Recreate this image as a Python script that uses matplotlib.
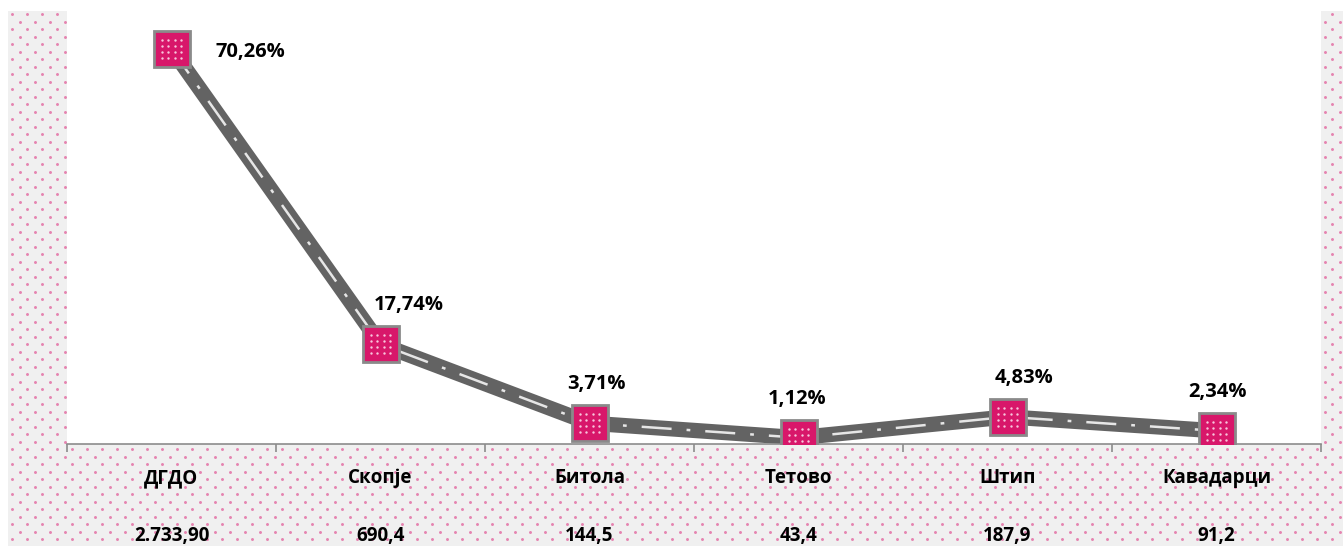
import numpy as np
import matplotlib
matplotlib.use("Agg")
import matplotlib.pyplot as plt
from matplotlib.transforms import ScaledTranslation, blended_transform_factory

# data
cities = ["ДГДО", "Скопје", "Битола", "Тетово", "Штип", "Кавадарци"]
amounts = ["2.733,90", "690,4", "144,5", "43,4", "187,9", "91,2"]
shares = [70.26, 17.74, 3.71, 1.12, 4.83, 2.34]

plt.rcParams['font.family'] = ['Open Sans', 'DejaVu Sans']

W, H = 1343, 546
fig = plt.figure(figsize=(W / 100, H / 100), dpi=100)
fig.patch.set_facecolor("white")

# dotted background
bg = fig.add_axes([0, 0, 1, 1])
bg.set_xlim(0, W)
bg.set_ylim(H, 0)
bg.axis("off")
bg.add_patch(plt.Rectangle((8, 11), W - 8, H - 11, color="#f0f0f0", lw=0))
gx, gy = np.meshgrid(np.arange(12, W, 15), np.arange(14, H, 15))
bg.scatter(gx.ravel(), gy.ravel(), s=4.5, color="#e584b0", lw=0)
bg.scatter(gx.ravel() + 7.5, gy.ravel() + 7.5, s=4.5, color="#e584b0", lw=0)

left, right, top, bottom = 67, 1321, 11, 444
ax = fig.add_axes([left / W, (H - bottom) / H, (right - left) / W, (bottom - top) / H])
ax.set_facecolor("white")

x = np.arange(len(cities))
ax.set_xlim(-0.5, len(cities) - 0.5)
ax.set_ylim(0, 77)

# road-like line
ax.plot(x, shares, color="#636363", lw=11, solid_capstyle="butt", zorder=2)
ax.plot(x, shares, color="#e6e6e6", lw=1.8, dashes=(12, 6, 1.5, 6), zorder=3)

# markers with small white dots
ax.plot(x, shares, "s", ms=26, mfc="#d8176a", mec="#8a8a8a", mew=2, zorder=4)
for dx in (-6.5, -2.2, 2.2, 6.5):
    for dy in (-6.5, -2.2, 2.2, 6.5):
        off = ScaledTranslation(dx / 72, dy / 72, fig.dpi_scale_trans)
        ax.scatter(x, shares, s=3, color="#f7c6dc", lw=0, zorder=5,
                   transform=ax.transData + off)

label_dx = [57, 20, 5, -1, 12, 1]
for i, v in enumerate(shares):
    label = f"{v:.2f}%".replace(".", ",")
    dy = -2 if i == 0 else 28
    ax.annotate(label, (i, v), xytext=(label_dx[i], dy), textcoords="offset points",
                ha="center", va="center", fontsize=14.5, fontweight="bold")

for s in ["top", "left", "right"]:
    ax.spines[s].set_visible(False)
ax.spines["bottom"].set_color("#8c8c8c")
ax.spines["bottom"].set_linewidth(1.2)
ax.set_yticks([])
ax.set_xticks(np.arange(-0.5, len(cities)))
ax.set_xticklabels([])
ax.tick_params(axis="x", length=6, color="#8c8c8c", width=1.2)

tr = blended_transform_factory(ax.transData, ax.transAxes)
for i in range(len(cities)):
    ax.text(i, -34 / 433, cities[i], transform=tr, ha="center", va="center",
            fontsize=13.5, fontweight="bold")
    ax.text(i, -92 / 433, amounts[i], transform=tr, ha="center", va="center",
            fontsize=13.5, fontweight="bold")

fig.savefig("out.png", dpi=100)
